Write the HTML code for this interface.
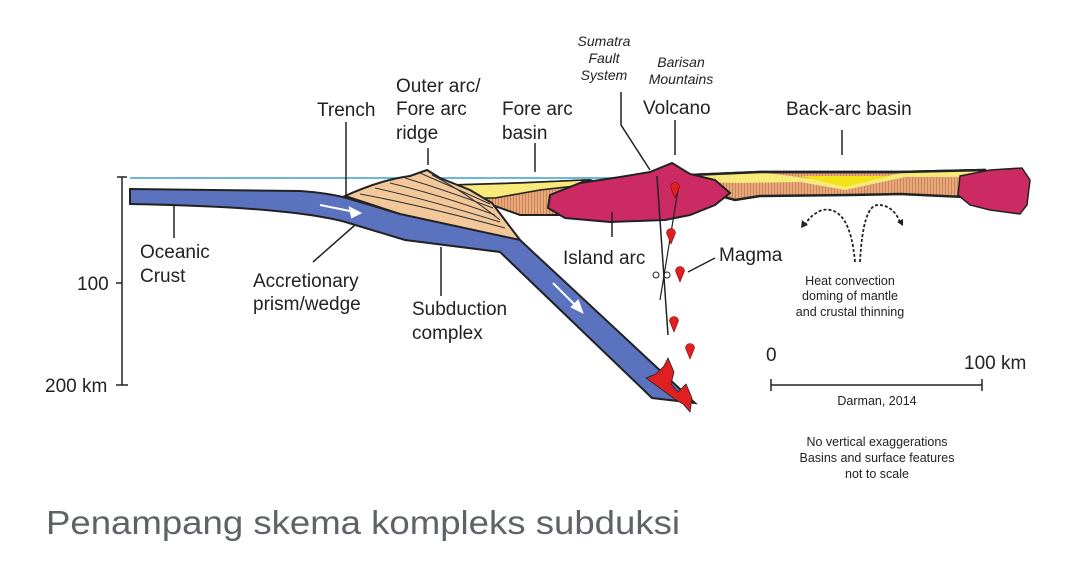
<!DOCTYPE html>
<html><head><meta charset="utf-8"><style>
html,body{margin:0;padding:0;background:#fff;width:1080px;height:565px;overflow:hidden}
svg{display:block}
text{font-family:"Liberation Sans",Arial,sans-serif;fill:#222}
</style></head><body>
<svg width="1080" height="565" viewBox="0 0 1080 565" xmlns="http://www.w3.org/2000/svg">
<defs>
<pattern id="st" width="3" height="10" patternUnits="userSpaceOnUse"><rect width="3" height="10" fill="#e9a87a"/><rect width="1" height="10" fill="#c8855c"/></pattern>
<path id="drop" d="M-4.5,5 A4.5,4.5 0 1,1 4.5,5 L0,16 Z"/>
</defs>
<line x1="130" y1="178" x2="705" y2="178" stroke="#3aa0cf" stroke-width="1.5"/>
<line x1="760" y1="173" x2="910" y2="173" stroke="#3aa0cf" stroke-width="1.5"/>
<path d="M690,175 L760,172 L900,172 L985,170 L985,198 L900,194 L850,195 L760,196 L735,200 L720,196 Z" fill="url(#st)" stroke="#222" stroke-width="2.5"/>
<path d="M690,175 L760,172 L820,180 L845,186 L880,178 L900,173 L985,170 L985,177 L905,177 L845,190 L800,182 L740,183 L700,182 Z" fill="#f7ea7a"/>
<path d="M800,176 L845,187 L890,176 Z" fill="#f2e21a"/>
<path d="M690,175 L760,172 L900,172 L985,170" fill="none" stroke="#222" stroke-width="2.5"/>
<path d="M960,176 L990,170 L1022,168 L1030,180 L1027,205 L1020,214 L990,210 L970,205 L958,195 Z" fill="#cc2a63" stroke="#222" stroke-width="1.5"/>
<path d="M455,185 L520,183 L590,180 L600,183 L600,215 L520,215 L492,205 Z" fill="url(#st)" stroke="#222" stroke-width="2"/>
<path d="M455,185 L520,183 L585,180 L575,186 L540,190 L495,198 L475,198 Z" fill="#f7ea7a" stroke="#222" stroke-width="1.5"/>
<path d="M550,195 L580,183 L620,177 L650,172 L672,163 L690,174 L715,180 L730,193 L715,205 L690,215 L665,220 L610,222 L565,218 L548,208 Z" fill="#cc2a63" stroke="#222" stroke-width="2"/>
<path d="M130,189 L300,191 Q330,193 350,199 L400,214 L505,233 L520,240 L695,403 L652,398 L500,252 L405,240 L352,224 Q300,207 130,204 Z" fill="#5b72bf" stroke="#222" stroke-width="2"/>
<path d="M646,378 L656,374 L664,366 L668,358 L674,372 L671,384 L678,392 L686,384 L692,398 L690,412 L683,404 L676,400 Z" fill="#e02020" stroke="#222" stroke-width="0.8"/>
<path d="M345,196 Q380,180 410,176 L427,170 L440,178 L470,190 L492,203 L520,240 L400,214 Z" fill="#f2c89a" stroke="#222" stroke-width="2"/>
<g stroke="#333" stroke-width="1" fill="none">
<path d="M360,194 Q420,205 505,228"/><path d="M375,188 Q430,200 500,222"/><path d="M390,183 Q440,195 495,215"/><path d="M405,178 Q445,190 493,208"/><path d="M420,173 Q455,188 490,204"/><path d="M432,175 Q465,192 500,220"/>
</g>
<g stroke="#fff" stroke-width="2" fill="#fff">
<line x1="320" y1="205" x2="355" y2="212"/><path d="M360,213 L350,208 L352,217 Z"/>
<line x1="553" y1="283" x2="577" y2="307"/><path d="M582,312 L572,307 L578,301 Z"/>
</g>
<path d="M657,176 L660,220 L668,335" fill="none" stroke="#222" stroke-width="1.5"/>
<path d="M678,190 L660,300" fill="none" stroke="#222" stroke-width="1.2"/>
<g fill="#e02020" stroke="#7a0000" stroke-width="0.6">
<use href="#drop" x="675" y="182"/>
<use href="#drop" x="671" y="228"/>
<use href="#drop" x="680" y="266"/>
<use href="#drop" x="674" y="316"/>
<use href="#drop" x="690" y="343"/>
</g>
<circle cx="656" cy="275" r="3" fill="none" stroke="#222"/><circle cx="667" cy="275" r="3" fill="none" stroke="#222"/>
<g stroke="#222" stroke-width="1.8" fill="none" stroke-dasharray="3,2">
<path d="M855,262 Q850,205 822,210 Q810,215 805,225"/>
<path d="M860,262 Q863,205 878,205 Q893,205 900,222"/>
</g>
<path d="M801,228 l1,-8 l6,5z M903,226 l-6,-4 l6,-3z" fill="#222"/>
<g stroke="#222" stroke-width="1.5">
<line x1="346" y1="122" x2="346" y2="195"/>
<line x1="428" y1="148" x2="428" y2="165"/>
<line x1="535" y1="143" x2="535" y2="172"/>
<path d="M621,92 L621,125 L650,170" fill="none"/>
<line x1="675" y1="120" x2="675" y2="155"/>
<line x1="842" y1="130" x2="842" y2="155"/>
<line x1="174" y1="206" x2="174" y2="238"/>
<line x1="313" y1="262" x2="355" y2="225"/>
<line x1="441" y1="247" x2="441" y2="296"/>
<line x1="612" y1="212" x2="612" y2="237"/>
<line x1="688" y1="272" x2="715" y2="258"/>
<line x1="122" y1="177" x2="122" y2="385"/><line x1="117" y1="177" x2="127" y2="177"/>
<line x1="116" y1="283" x2="122" y2="283"/><line x1="116" y1="385" x2="128" y2="385"/>
<line x1="771" y1="385" x2="982" y2="385"/><line x1="771" y1="379" x2="771" y2="391"/><line x1="982" y1="379" x2="982" y2="391"/>
</g>
<g font-size="19">
<text x="317" y="116">Trench</text>
<text x="396" y="92">Outer arc/</text>
<text x="396" y="115">Fore arc</text>
<text x="396" y="139">ridge</text>
<text x="502" y="115">Fore arc</text>
<text x="502" y="139">basin</text>
<text x="643" y="114">Volcano</text>
<text x="786" y="115">Back-arc basin</text>
<text x="140" y="258">Oceanic</text>
<text x="140" y="282">Crust</text>
<text x="253" y="287">Accretionary</text>
<text x="253" y="310">prism/wedge</text>
<text x="412" y="315">Subduction</text>
<text x="412" y="339">complex</text>
<text x="563" y="264">Island arc</text>
<text x="719" y="261">Magma</text>
<text x="77" y="290">100</text>
<text x="45" y="392">200 km</text>
<text x="766" y="361">0</text>
<text x="964" y="369">100 km</text>
</g>
<g font-size="14" font-style="italic" text-anchor="middle">
<text x="604" y="46">Sumatra</text>
<text x="604" y="63">Fault</text>
<text x="604" y="80">System</text>
<text x="681" y="67">Barisan</text>
<text x="681" y="84">Mountains</text>
</g>
<g font-size="12.5" text-anchor="middle">
<text x="850" y="285">Heat convection</text>
<text x="850" y="300">doming of mantle</text>
<text x="850" y="316">and crustal thinning</text>
<text x="877" y="405">Darman, 2014</text>
<text x="877" y="446">No vertical exaggerations</text>
<text x="877" y="462">Basins and surface features</text>
<text x="877" y="478">not to scale</text>
</g>
<text x="46" y="534" font-size="33" style="fill:#5f6368" textLength="634" lengthAdjust="spacingAndGlyphs">Penampang skema kompleks subduksi</text>
</svg>
</body></html>
